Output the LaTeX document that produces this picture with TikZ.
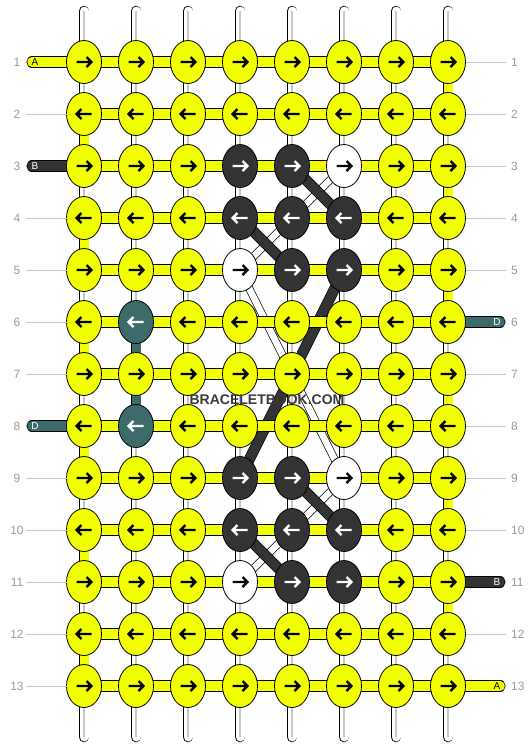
\documentclass[tikz,border=0pt]{standalone}
\usepackage{fontspec}
\setmainfont{Liberation Sans}
\usetikzlibrary{shapes.geometric}
\definecolor{yl}{HTML}{F2FF00}
\definecolor{dk}{HTML}{333333}
\definecolor{tl}{HTML}{3D6B6B}
\definecolor{numgray}{HTML}{999999}
\definecolor{linegray}{HTML}{C4C4C4}
\definecolor{midgray}{HTML}{C8C8C8}
\definecolor{wmark}{HTML}{3A3A3A}
\pgfdeclarelayer{bg}\pgfdeclarelayer{mid}\pgfsetlayers{bg,mid,main}
\newcommand\setknot[4]{\expandafter\def\csname kc-#1-#2\endcsname{#3}\expandafter\def\csname ac-#1-#2\endcsname{#4}}
\setknot{3}{4}{dk}{white}\setknot{3}{5}{dk}{white}\setknot{3}{6}{white}{black}
\setknot{4}{4}{dk}{white}\setknot{4}{5}{dk}{white}\setknot{4}{6}{dk}{white}
\setknot{5}{4}{white}{black}\setknot{5}{5}{dk}{white}\setknot{5}{6}{dk}{white}
\setknot{6}{2}{tl}{white}\setknot{8}{2}{tl}{white}
\setknot{9}{4}{dk}{white}\setknot{9}{5}{dk}{white}\setknot{9}{6}{white}{black}
\setknot{10}{4}{dk}{white}\setknot{10}{5}{dk}{white}\setknot{10}{6}{dk}{white}
\setknot{11}{4}{white}{black}\setknot{11}{5}{dk}{white}\setknot{11}{6}{dk}{white}
\begin{document}
\begin{tikzpicture}[x=1pt,y=-1pt,
  knot/.style={ellipse,draw=black,line width=0.8pt,minimum width=35pt,minimum height=43pt,inner sep=0pt,outer sep=0pt},
  hbar/.style={draw=black,line width=0.8pt,double=yl,double distance=9.5pt},
  vbar0/.style={draw=black,line width=0.8pt,double=white,double distance=9pt},
  vbar1/.style={draw=black,line width=0.8pt,double=yl,double distance=9pt},
  vbar2/.style={draw=black,line width=0.8pt,double=tl,double distance=9pt},
  stubw/.style={draw=black,line width=0.8pt,double=white,double distance=9pt,line cap=round},
  sideyl/.style={draw=black,line width=0.8pt,double=yl,double distance=9.5pt,line cap=round},
  sidedk/.style={draw=black,line width=0.8pt,double=dk,double distance=9.5pt,line cap=round},
  sidetl/.style={draw=black,line width=0.8pt,double=tl,double distance=9.5pt,line cap=round},
  cline/.style={draw=midgray,line width=1.4pt},
  gline/.style={draw=linegray,line width=1pt},
  dkdiag/.style={draw=black,line width=0.7pt,double=dk,double distance=9.5pt},
  whdiag/.style={draw=black,line width=0.7pt,double=white,double distance=6.5pt},
  arr/.style={line width=2.2pt,miter limit=10},
  num/.style={text=numgray,font=\fontsize{12}{12}\selectfont,inner sep=0pt},
  slab/.style={font=\fontsize{10}{10}\selectfont,inner sep=0pt}]
\useasboundingbox (0,0) rectangle (532,748);
% knots
\foreach \rr in {1,...,13}{
  \foreach \cc in {1,...,8}{
    \ifcsname kc-\rr-\cc\endcsname
      \edef\kcol{\csname kc-\rr-\cc\endcsname}%
    \else\def\kcol{yl}\fi
    \node[knot,fill=\kcol] (k-\rr-\cc) at ({32+52*\cc},{10+52*\rr}) {};
  }
}
% arrows
\foreach \rr in {1,...,13}{
  \foreach \cc in {1,...,8}{
    \ifcsname ac-\rr-\cc\endcsname
      \edef\acol{\csname ac-\rr-\cc\endcsname}%
    \else\def\acol{black}\fi
    \ifodd\rr
      \draw[arr,draw=\acol] (k-\rr-\cc.center) ++(-7.5,0) -- ++(15,0) ++(-5,-5) -- ++(5,5) -- ++(-5,5);
    \else
      \draw[arr,draw=\acol] (k-\rr-\cc.center) ++(7.5,0) -- ++(-15,0) ++(5,-5) -- ++(-5,5) -- ++(5,5);
    \fi
  }
}
\begin{pgfonlayer}{mid}
% horizontal bars
\foreach \rr in {1,...,13}{
  \foreach \cc [evaluate=\cc as \nc using int(\cc+1)] in {1,...,7}{
    \draw[hbar] (k-\rr-\cc.center) -- (k-\rr-\nc.center);
  }
}
% vertical connectors
\foreach \cc in {1,...,8}{
  \foreach \rr [evaluate=\rr as \nr using int(\rr+1)] in {1,...,12}{
    \def\vt{0}%
    \ifnum\cc=1 \ifodd\rr\else\def\vt{1}\fi\fi
    \ifnum\cc=8 \ifodd\rr\def\vt{1}\fi\fi
    \ifnum\cc=2 \ifnum\rr=6 \def\vt{2}\fi\ifnum\rr=7 \def\vt{2}\fi\fi
    \draw[vbar\vt] (k-\rr-\cc.center) -- (k-\nr-\cc.center);
    \ifnum\vt=0 \draw[cline] (k-\rr-\cc.center) -- (k-\nr-\cc.center);\fi
  }
}
% top and bottom stubs
\foreach \cc in {1,...,8}{
  \coordinate (t-\cc) at ({32+52*\cc},11);
  \coordinate (b-\cc) at ({32+52*\cc},737);
  \draw[stubw] (t-\cc) -- (k-1-\cc.center);
  \draw[cline] (t-\cc) -- (k-1-\cc.center);
  \draw[stubw] (b-\cc) -- (k-13-\cc.center);
  \draw[cline] (b-\cc) -- (k-13-\cc.center);
}
% side stubs
\coordinate (l-1) at (32,62);
\coordinate (l-3) at (32,166);
\coordinate (l-8) at (32,426);
\draw[sideyl] (l-1) -- (k-1-1.center);
\draw[sidedk] (l-3) -- (k-3-1.center);
\draw[sidetl] (l-8) -- (k-8-1.center);
\coordinate (r-6) at (500,322);
\coordinate (r-11) at (500,582);
\coordinate (r-13) at (500,686);
\draw[sidetl] (r-6) -- (k-6-8.center);
\draw[sidedk] (r-11) -- (k-11-8.center);
\draw[sideyl] (r-13) -- (k-13-8.center);
\end{pgfonlayer}
\node[slab,text=black] (la) at (35,62.5) {A};
\node[slab,text=white] (lb) at (35,166.5) {B};
\node[slab,text=white] (ld) at (35,426.5) {D};
\node[slab,text=white] (rd) at (497,322.5) {D};
\node[slab,text=white] (rb) at (497,582.5) {B};
\node[slab,text=black] (ra) at (497,686.5) {A};
% gray guide lines
\foreach \rr in {2,4,5,6,7,9,10,11,12,13}{
  \coordinate (gl-\rr) at (26,{10+52*\rr});
  \draw[gline] (gl-\rr) -- (k-\rr-1.west);
}
\foreach \rr in {1,2,3,4,5,7,8,9,10,12}{
  \coordinate (gr-\rr) at (506,{10+52*\rr});
  \draw[gline] (k-\rr-8.east) -- (gr-\rr);
}
% row numbers
\foreach \rr in {1,...,13}{
  \node[num] (nl-\rr) at (17,{10.5+52*\rr}) {\rr};
  \node[num,anchor=west] (nr-\rr) at (511,{10.5+52*\rr}) {\rr};
}
% diagonal strands (white ones behind the dark ones)
\begin{pgfonlayer}{bg}
\draw[whdiag] (k-3-6.center) -- (k-5-4.center);
\draw[whdiag] (k-5-4.center) -- (k-9-6.center);
\draw[whdiag] (k-9-6.center) -- (k-11-4.center);
\draw[dkdiag] (k-3-5.center) -- (k-4-6.center);
\draw[dkdiag] (k-4-4.center) -- (k-5-5.center);
\draw[dkdiag] (k-5-6.center) -- (k-9-4.center);
\draw[dkdiag] (k-9-5.center) -- (k-10-6.center);
\draw[dkdiag] (k-10-4.center) -- (k-11-5.center);
\end{pgfonlayer}
% watermark
\node[text=wmark,font=\fontsize{14}{14}\selectfont\bfseries,inner sep=0pt] (wm) at (267,400) {BRACELETBOOK.COM};
\end{tikzpicture}
\end{document}
